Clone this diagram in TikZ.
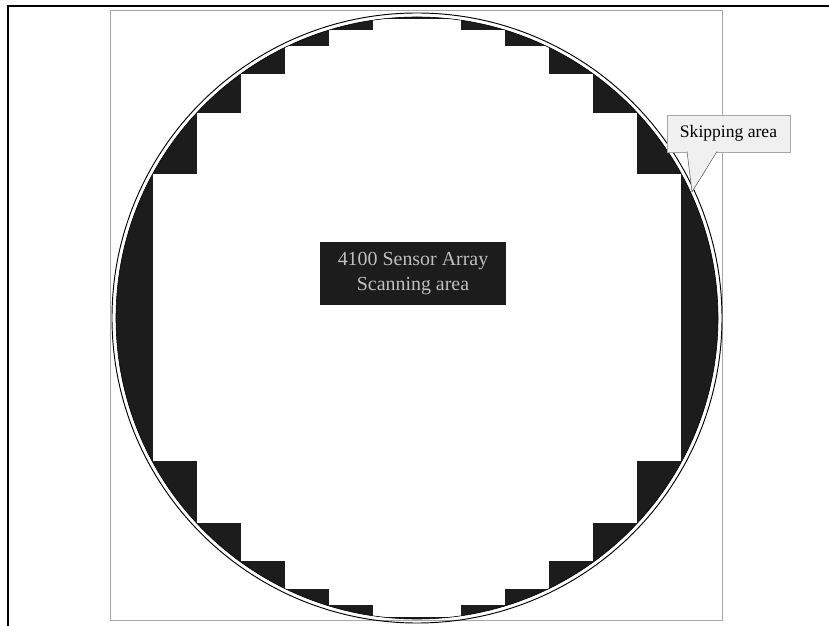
\documentclass[tikz,border=0pt]{standalone}
\usepackage{fontspec}
\setmainfont{Liberation Serif}
\usetikzlibrary{calc}
\definecolor{waferdark}{RGB}{28,28,28}
\begin{document}
\begin{tikzpicture}[x=0.03cm, y=-0.03cm,
  outerframe/.style={line width=1pt, black},
  sheet/.style={line width=0.4pt, gray!70},
  rim/.style={line width=0.8pt, black},
  txt/.style={font=\fontsize{15}{21}\selectfont, align=center, inner sep=0pt},
]
\useasboundingbox (0,0) rectangle (829,626);

% FRAMES
\draw[outerframe] (8,626) -- (8,6) -- (829,6);
\draw[sheet] (110,10) rectangle (722,620);

% WAFER
\coordinate (c) at (417,318);
\fill[waferdark] (c) circle[radius=301];
\begin{scope}
  \clip (c) circle[radius=301];
  \foreach \d/\h in {44/299, 88/287.5, 132/271.5, 176/243.5, 220/205, 264/143.5}
    \fill[white] ($(c)+(-\d,-\h)$) rectangle ($(c)+(\d,\h)$);
\end{scope}
\draw[rim] (c) circle[radius=305];
\draw[rim, line width=0.5pt] (c) circle[radius=301];

% SCANNING AREA
\node[txt, font=\fontsize{17}{22}\selectfont, fill=waferdark, text=gray!50, minimum width=5.58cm, minimum height=1.89cm] (scan) at (413,273.5) {4100 Sensor Array\\Scanning area};

% SKIPPING AREA
\node[txt, fill=gray!12, draw=gray!70, line width=0.4pt, minimum width=3.69cm, minimum height=1.11cm] (skip) at (728.5,133.5) {Skipping area};
\coordinate (tip) at (692,192);
\coordinate (pl) at (687,151.5);
\coordinate (pr) at (717,151.5);
\fill[gray!12] (pl) -- (tip) -- (pr) -- cycle;
\draw[sheet, black!70] (pl) -- (tip) -- (pr);

\end{tikzpicture}
\end{document}
